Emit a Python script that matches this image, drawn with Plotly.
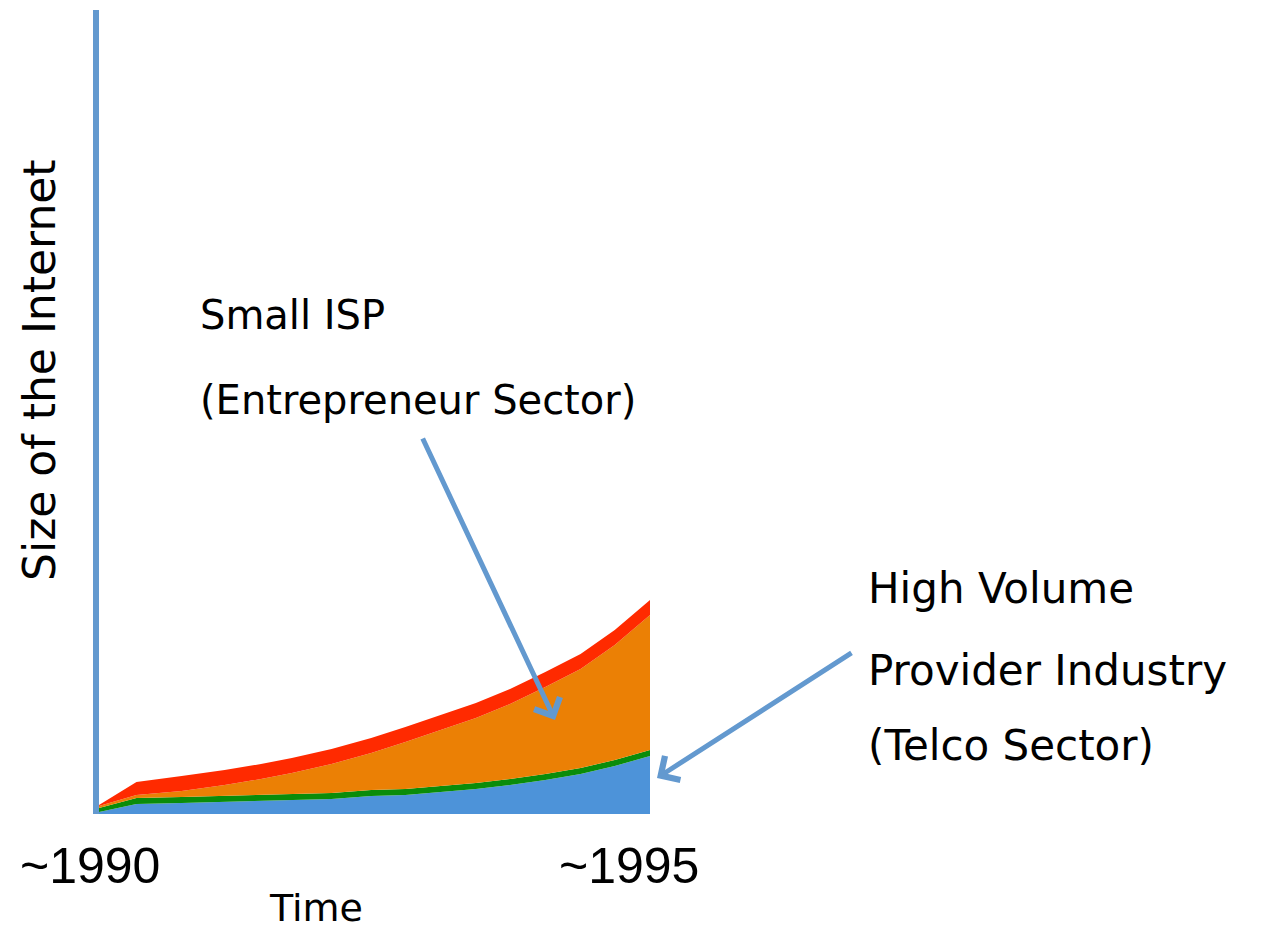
import plotly.graph_objects as go

# ---- data (heights of stacked layers, arbitrary units) ----
years = [1990.00, 1990.34, 1990.75, 1991.14, 1991.47, 1991.75, 1992.11, 1992.47,
         1992.78, 1993.10, 1993.42, 1993.73, 1994.05, 1994.37, 1994.68, 1995.00]
telco = [2, 10, 11, 12, 13, 14, 15, 18, 19, 22, 25, 29, 34, 40, 48, 58]        # blue: Telco sector
telco_edge = [4, 6, 6, 6, 6, 6, 6, 6, 6, 6, 6, 6, 6, 6, 6, 6]                # green edge band
isp = [2, 3, 6, 11, 16, 21, 29, 37, 47, 56, 65, 75, 87, 99, 115, 135]         # orange: Small ISP
isp_edge = [1, 13, 15, 15, 15, 15, 15, 15, 15, 15, 15, 15, 15, 15, 15, 15]   # red edge band

tick_years = [1990, 1995]
tick_text = ["~1990", "~1995"]

x_title = "Time"
y_title = "Size of the Internet"
label_isp = ["Small ISP", "(Entrepreneur Sector)"]
label_telco = ["High Volume", "Provider Industry", "(Telco Sector)"]

AXIS_BLUE = "#6399CF"
HAND = "DejaVu Sans"

# page offset of the plotly div (browser body margin)
OFF = 8
PL, PR, PT, PB = 99, 650, 10, 814   # plot area in page pixels


def px(xp):
    return (xp - PL) / (PR - PL)


def py(yp):
    return (PB - yp) / (PB - PT)


fig = go.Figure()
layers = [
    (telco, "#4D93D9", "Telco"),
    (telco_edge, "#0A8C0A", "Telco edge"),
    (isp, "#EB8005", "Small ISP"),
    (isp_edge, "#FF2A00", "Small ISP edge"),
]
for vals, col, name in layers:
    fig.add_trace(go.Scatter(
        x=years, y=vals, name=name, stackgroup="one",
        mode="lines", line=dict(width=0, shape="linear", color=col),
        fillcolor=col, hoverinfo="skip", showlegend=False,
    ))

W, H = 1272 - OFF, 935 - OFF
fig.update_layout(
    width=W, height=H,
    margin=dict(l=PL - OFF, r=W - (PR - OFF), t=PT - OFF, b=H - (PB - OFF)),
    plot_bgcolor="white", paper_bgcolor="white",
    xaxis=dict(range=[tick_years[0], tick_years[1]], showgrid=False, zeroline=False,
               showticklabels=False, ticks="", showline=False),
    yaxis=dict(range=[0, PB - PT], showgrid=False, zeroline=False, showticklabels=False,
               ticks="", showline=True, linecolor=AXIS_BLUE, linewidth=6),
    showlegend=False,
)

ann = []
# tick labels
for xv, t in zip([90, 629], tick_text):
    ann.append(dict(x=px(xv), y=py(866), xref="paper", yref="paper", text=t, showarrow=False,
                    xanchor="center", yanchor="middle",
                    font=dict(family="Liberation Sans", size=50, color="black")))
# axis titles
ann.append(dict(x=px(316), y=py(908), xref="paper", yref="paper", text=x_title,
                showarrow=False, xanchor="center", yanchor="middle",
                font=dict(family=HAND, size=38, color="black")))
ann.append(dict(x=px(40), y=py(370), xref="paper", yref="paper", text=y_title,
                showarrow=False, xanchor="center", yanchor="middle", textangle=-90,
                font=dict(family=HAND, size=44, color="black")))
# label texts
for t, yv in zip(label_isp, [315, 400]):
    ann.append(dict(x=px(198), y=py(yv), xref="paper", yref="paper", text=t,
                    showarrow=False, xanchor="left", yanchor="middle",
                    font=dict(family=HAND, size=40, color="black")))
for t, yv in zip(label_telco, [588, 670, 745]):
    ann.append(dict(x=px(866), y=py(yv), xref="paper", yref="paper", text=t,
                    showarrow=False, xanchor="left", yanchor="middle",
                    font=dict(family=HAND, size=42, color="black")))
# arrows
ann.append(dict(x=px(555), y=py(720), xref="paper", yref="paper", text="",
                showarrow=True, ax=422 - 555, ay=437 - 720, arrowhead=4, arrowsize=1.1,
                arrowwidth=5, arrowcolor=AXIS_BLUE))
ann.append(dict(x=px(657), y=py(778), xref="paper", yref="paper", text="",
                showarrow=True, ax=853 - 657, ay=652 - 778, arrowhead=4, arrowsize=1.1,
                arrowwidth=5, arrowcolor=AXIS_BLUE))
fig.update_layout(annotations=ann)

fig.write_html("out.html")
